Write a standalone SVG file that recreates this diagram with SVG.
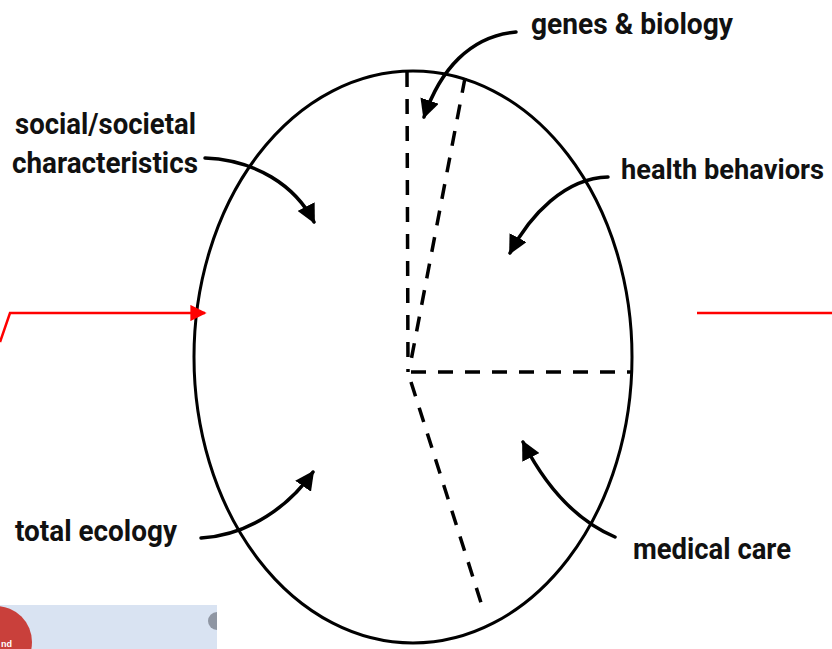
<svg xmlns="http://www.w3.org/2000/svg" width="832" height="649" viewBox="0 0 832 649">
<defs>
<style>
.lbl{font-family:Roboto,"Liberation Sans",sans-serif;font-weight:bold;font-size:30px;fill:#111}
.arr{fill:none;stroke:#000;stroke-width:3.5;stroke-linecap:round}
.dash{fill:none;stroke:#000;stroke-width:3.5;stroke-dasharray:15 12}
.red{fill:none;stroke:#ff0000;stroke-width:2.5}
</style>
<marker id="ah" viewBox="0 0 10 10" refX="9" refY="5" markerWidth="5.5" markerHeight="5.5" orient="auto" markerUnits="strokeWidth">
<path d="M0,0 L10,5 L0,10 Z" fill="#000"/>
</marker>
<marker id="rh" viewBox="0 0 10 10" refX="9" refY="5" markerWidth="7" markerHeight="6.5" orient="auto" markerUnits="strokeWidth">
<path d="M0,0 L10,5 L0,10 Z" fill="#ff0000"/>
</marker>
</defs>
<rect width="832" height="649" fill="#fff"/>
<g id="corner">
<rect x="0" y="605" width="217" height="44" fill="#d9e3f2"/>
<circle cx="-4" cy="642" r="36" fill="#c9403b"/>
<text x="1" y="647" font-family="'Liberation Sans',sans-serif" font-weight="bold" font-size="9" fill="#fff">nd</text>
<path d="M217,612 A9,9 0 0 0 217,630 Z" fill="#8f96a3"/>
</g>
<g id="circle">
<ellipse cx="413" cy="357" rx="219" ry="286" fill="none" stroke="#000" stroke-width="3"/>
</g>
<g id="sectors">
<path class="dash" d="M407,72 L408,372"/>
<path class="dash" d="M465,78 L410,366"/>
<path class="dash" d="M411,372 L631,372"/>
<path class="dash" d="M411,382 L484,612"/>
</g>
<g id="connectors">
<path class="arr" marker-end="url(#ah)" d="M516,32 C470,36 440,70 424,117"/>
<path class="arr" marker-end="url(#ah)" d="M205,158 C255,160 295,185 314,222"/>
<path class="arr" marker-end="url(#ah)" d="M608,177 C565,178 530,215 510,253"/>
<path class="arr" marker-end="url(#ah)" d="M201,538 C250,535 290,505 313,472"/>
<path class="arr" marker-end="url(#ah)" d="M615,537 C575,520 545,485 523,442"/>
<path class="red" marker-end="url(#rh)" d="M0,342 L10,313 L205,313"/>
<path class="red" d="M697,313 L832,313"/>
</g>
<g id="genes"><text class="lbl" x="531" y="34" textLength="202" lengthAdjust="spacingAndGlyphs">genes &amp; biology</text></g>
<g id="social"><text class="lbl" x="15" y="134" textLength="181" lengthAdjust="spacingAndGlyphs">social/societal</text>
<text class="lbl" x="12" y="173" textLength="186" lengthAdjust="spacingAndGlyphs">characteristics</text></g>
<g id="health"><text class="lbl" x="621" y="179" style="font-size:27px" textLength="203" lengthAdjust="spacingAndGlyphs">health behaviors</text></g>
<g id="ecology"><text class="lbl" x="15" y="541" textLength="162" lengthAdjust="spacingAndGlyphs">total ecology</text></g>
<g id="medical"><text class="lbl" x="633" y="559" textLength="158" lengthAdjust="spacingAndGlyphs">medical care</text></g>
</svg>
